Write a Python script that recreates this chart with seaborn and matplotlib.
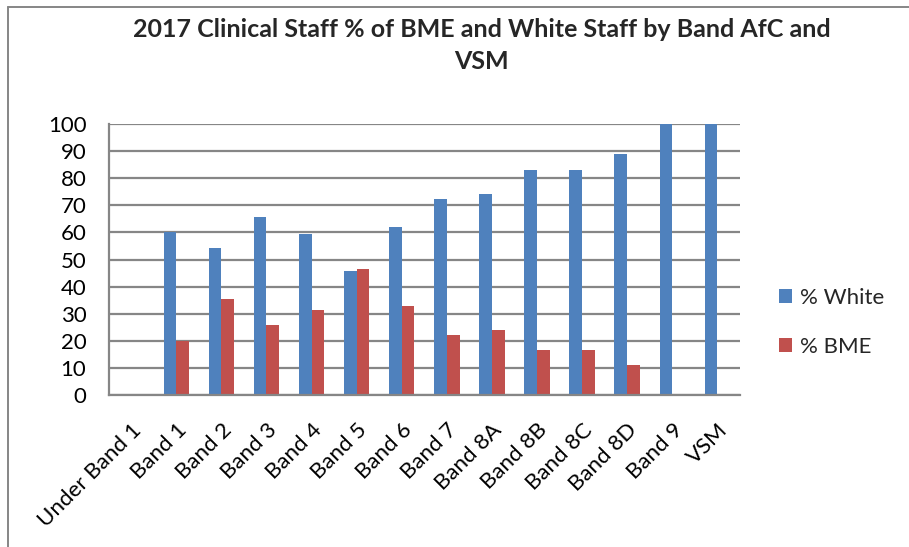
import numpy as np
import pandas as pd
import matplotlib
matplotlib.use("Agg")
import matplotlib.pyplot as plt
from matplotlib.lines import Line2D
import seaborn as sns

bands = ["Under Band 1", "Band 1", "Band 2", "Band 3", "Band 4", "Band 5", "Band 6",
         "Band 7", "Band 8A", "Band 8B", "Band 8C", "Band 8D", "Band 9", "VSM"]
pct_white = [np.nan, 60.0, 54.1, 65.6, 59.6, 45.9, 61.9, 72.5, 74.3, 83.2, 83.2, 88.8, 100.0, 100.0]
pct_bme = [np.nan, 20.0, 35.5, 25.7, 31.2, 46.4, 32.9, 22.1, 24.0, 16.7, 16.7, 11.1, 0.0, 0.0]
series_names = ["% White", "% BME"]
colors = ["#4F81BD", "#C0504D"]
title_text = "2017 Clinical Staff % of BME and White Staff by Band AfC and\nVSM"

df = pd.DataFrame({"Band": bands, series_names[0]: pct_white, series_names[1]: pct_bme})
long = df.melt(id_vars="Band", var_name="Series", value_name="Value")

sns.set_theme(style="white")
plt.rcParams["font.family"] = ["Lato", "DejaVu Sans"]

fig = plt.figure(figsize=(9.09, 5.47), dpi=100)
ax = fig.add_axes([0.1195, 0.278, 0.6945, 0.495])

sns.barplot(data=long, x="Band", y="Value", hue="Series", order=bands,
            hue_order=series_names, palette=colors, width=0.565, gap=0,
            saturation=1, linewidth=0, ax=ax, legend=True)

ax.set_ylim(0, 100)
ax.set_xlim(-0.5, len(bands) - 0.5)
ax.set_yticks(range(0, 101, 10))
ax.yaxis.grid(True, color="#868686", linewidth=1.6)
ax.set_axisbelow(True)
ax.set_xlabel("")
ax.set_ylabel("")
for s in ["top", "right"]:
    ax.spines[s].set_visible(False)
for s in ["left", "bottom"]:
    ax.spines[s].set_color("#868686")
    ax.spines[s].set_linewidth(1.6)
ax.tick_params(axis="y", labelsize=16, length=0, pad=16, colors="black")
ax.tick_params(axis="x", labelsize=16, length=0, pad=18, colors="black")
plt.setp(ax.get_xticklabels(), rotation=45, ha="right", rotation_mode="anchor")

leg = ax.legend(loc="center left", bbox_to_anchor=(1.03, 0.268), frameon=False,
                fontsize=16, handlelength=0.6, handleheight=0.6, handletextpad=0.35,
                labelspacing=1.3)

fig.text(0.53, 0.968, title_text, ha="center", va="top", fontsize=18, fontweight="bold",
         linespacing=1.5)

fig.add_artist(Line2D([8 / 909, 1.0], [1 - 7 / 547, 1 - 7 / 547], transform=fig.transFigure,
                      color="#868686", linewidth=1.4))
fig.add_artist(Line2D([8 / 909, 8 / 909], [0.0, 1 - 7 / 547], transform=fig.transFigure,
                      color="#868686", linewidth=1.4))

fig.savefig("out.png", dpi=100)
